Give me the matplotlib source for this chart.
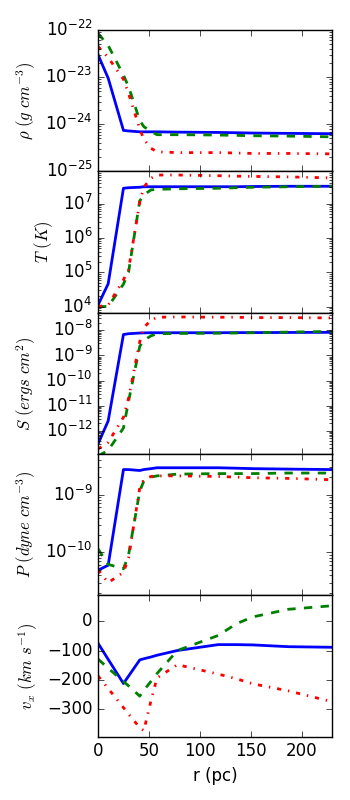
import numpy as np
import matplotlib
matplotlib.use('Agg')
import matplotlib.pyplot as plt

plt.style.use('classic')

# radius grid (pc)
r = [0, 10, 25, 30, 41, 45, 52, 58, 78, 118, 136, 152, 187, 230]

# density (g cm^-3)
rho_b = [3.0e-23, 9.5e-24, 7.4e-25, 7.2e-25, 6.9e-25, 6.9e-25, 6.9e-25, 6.9e-25,
         6.8e-25, 6.7e-25, 6.6e-25, 6.5e-25, 6.4e-25, 6.3e-25]
rho_g = [8.5e-23, 4.7e-23, 1.1e-23, 6.3e-24, 1.2e-24, 8.9e-25, 7.0e-25, 6.0e-25,
         6.0e-25, 5.9e-25, 5.8e-25, 5.7e-25, 5.6e-25, 5.4e-25]
rho_r = [4.5e-23, 2.6e-23, 9.0e-24, 4.5e-24, 8.0e-25, 4.8e-25, 3.1e-25, 2.6e-25,
         2.5e-25, 2.5e-25, 2.45e-25, 2.4e-25, 2.4e-25, 2.35e-25]

# temperature (K)
T_b = [1.1e4, 4.6e4, 2.8e7, 2.9e7, 3.0e7, 3.1e7, 3.1e7, 3.1e7,
       3.1e7, 3.1e7, 3.1e7, 3.15e7, 3.2e7, 3.2e7]
T_g = [1.0e4, 1.0e4, 4.5e4, 1.0e5, 1.2e7, 1.8e7, 2.5e7, 2.6e7,
       2.7e7, 2.8e7, 2.9e7, 3.0e7, 3.1e7, 3.2e7]
T_r = [1.0e4, 1.1e4, 6.0e4, 1.2e5, 1.1e7, 3.0e7, 5.5e7, 6.8e7,
       6.8e7, 6.5e7, 6.3e7, 6.2e7, 6.0e7, 5.6e7]

# entropy (ergs cm^2)
S_b = [3.0e-13, 2.5e-12, 6.8e-9, 7.3e-9, 7.8e-9, 7.9e-9, 8.0e-9, 8.0e-9,
       8.0e-9, 8.0e-9, 8.1e-9, 8.1e-9, 8.2e-9, 8.3e-9]
S_g = [1.0e-13, 1.7e-13, 1.3e-12, 1.5e-11, 2.3e-9, 4.0e-9, 6.0e-9, 7.3e-9,
       7.5e-9, 7.7e-9, 7.8e-9, 8.0e-9, 8.5e-9, 9.0e-9]
S_r = [1.9e-13, 3.5e-13, 3.5e-12, 2.0e-11, 3.5e-9, 1.3e-8, 2.5e-8, 3.3e-8,
       3.4e-8, 3.3e-8, 3.3e-8, 3.2e-8, 3.2e-8, 3.1e-8]

# pressure (dyne cm^-3)
P_b = [4.9e-11, 6.0e-11, 2.7e-9, 2.7e-9, 2.6e-9, 2.7e-9, 2.8e-9, 2.9e-9,
       2.9e-9, 2.9e-9, 2.85e-9, 2.8e-9, 2.75e-9, 2.7e-9]
P_g = [1.15e-10, 6.2e-11, 5.2e-11, 9.0e-11, 1.15e-9, 1.7e-9, 2.0e-9, 2.1e-9,
       2.25e-9, 2.3e-9, 2.3e-9, 2.3e-9, 2.35e-9, 2.35e-9]
P_r = [5.0e-11, 3.0e-11, 4.5e-11, 8.0e-11, 1.3e-9, 1.8e-9, 2.05e-9, 2.1e-9,
       2.1e-9, 2.05e-9, 2.0e-9, 1.95e-9, 1.9e-9, 1.8e-9]

# velocity (km s^-1)
v_b = [-75, -130, -212, -187, -132, -128, -122, -116,
       -100, -80, -80, -81, -87, -89]
v_g = [-129, -160, -205, -220, -255, -235, -205, -178,
       -100, -49, -9, 14, 40, 52]
v_r = [-186, -229, -294, -316, -362, -372, -271, -193,
       -148, -180, -196, -213, -237, -274]

panels = [
    (rho_b, rho_g, rho_r, r'$\rho\ (g\ cm^{-3})$', True, (1e-25, 1e-22)),
    (T_b, T_g, T_r, r'$T\ (K)$', True, (6.6e3, 8.7e7)),
    (S_b, S_g, S_r, r'$S\ (ergs\ cm^{2})$', True, (1.2e-13, 5e-8)),
    (P_b, P_g, P_r, r'$P\ (dyne\ cm^{-3})$', True, (1.8e-11, 5e-9)),
    (v_b, v_g, v_r, r'$v_x\ (km\ s^{-1})$', False, (-393, 87)),
]

fig, axes = plt.subplots(5, 1, sharex=True, figsize=(3.5, 8), facecolor='white')
fig.subplots_adjust(left=0.28, right=0.949, top=0.9625, bottom=0.079, hspace=0)

for ax, (yb, yg, yr, lab, logy, lim) in zip(axes, panels):
    ax.plot(r, yb, color='b', linestyle='-', linewidth=2)
    ax.plot(r, yg, color='g', linestyle='--', linewidth=2)
    ax.plot(r, yr, color='r', linestyle='-.', linewidth=2)
    if logy:
        ax.set_yscale('log')
    ax.set_ylim(lim)
    ax.set_ylabel(lab, fontsize=12)
    ax.set_xlim(0, 230)

axes[-1].set_xticks([0, 50, 100, 150, 200])
axes[-1].set_yticks([0, -100, -200, -300])
axes[-1].set_xlabel('r (pc)', fontsize=12)

fig.savefig('out.png', dpi=100, facecolor='white')
